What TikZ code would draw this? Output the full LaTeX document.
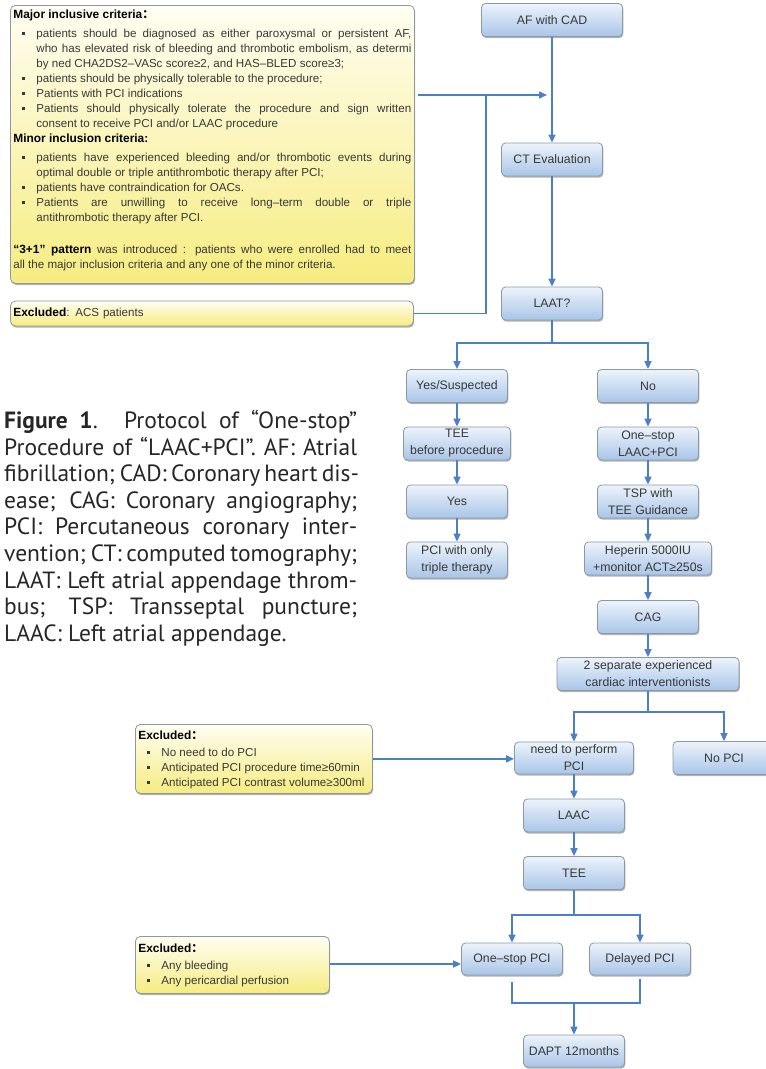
\documentclass[tikz,border=0pt]{standalone}
\usepackage{fontspec}
\setmainfont{Liberation Sans}
\newfontfamily\capfont{PT Sans}
\newfontfamily\cjk{Noto Sans CJK SC}
\usetikzlibrary{arrows.meta,shadows}

\definecolor{bluetop}{HTML}{EDF3FB}
\definecolor{bluebot}{HTML}{A9C5E8}
\definecolor{yeltop}{HTML}{FFFEF2}
\definecolor{yelbot}{HTML}{F6EC80}
\definecolor{boxline}{HTML}{8C99A5}
\definecolor{arrowblue}{HTML}{4D7FC4}
\definecolor{txtgray}{HTML}{383838}

\newcommand{\flowfont}{\fontsize{12.3}{17}\selectfont}
\newcommand{\critfont}{\fontsize{11.6}{15}\selectfont}
\newcommand{\crhead}[2][4pt]{\par\noindent{\fontsize{11.9}{15}\selectfont\bfseries\color{black}#2}\par\vspace{#1}}
\newcommand{\critem}[1]{\par\hangindent=23pt\hangafter=0\noindent\llap{\raisebox{2.2pt}{\rule{3pt}{3pt}}\hspace{11pt}}#1}
\newcommand{\critbox}[4]{\begin{minipage}[t][#1][t]{#2}\vspace*{#3}\critfont\color{txtgray}#4\par\end{minipage}}
\newcommand{\capline}[1]{\makebox[353pt][s]{#1}}

\begin{document}
\hyphenpenalty=10000
\exhyphenpenalty=10000
\tolerance=10000
\hbadness=10000
\begin{tikzpicture}[x=1pt,y=-1pt,
    flowbox/.style={draw=boxline, line width=0.8pt, rounded corners=4pt,
        top color=bluetop, bottom color=bluebot, text=txtgray, font=\flowfont,
        align=center, inner sep=1pt, minimum width=101pt, minimum height=33pt,
        drop shadow={shadow xshift=0.8pt, shadow yshift=-1.6pt, opacity=0.3, fill=black}},
    critstyle/.style={draw=boxline, line width=0.8pt, rounded corners=5pt,
        top color=yeltop, bottom color=yelbot, inner sep=3pt,
        drop shadow={shadow xshift=0.8pt, shadow yshift=-1.6pt, opacity=0.3, fill=black}},
    capstyle/.style={align=left, inner sep=0pt, text=black!85,
        font=\capfont\fontsize{23.5}{26.6}\selectfont},
    flowline/.style={draw=arrowblue, line width=1.6pt},
    flowarrow/.style={flowline, -{Triangle[length=8pt,width=7pt]}},
]
\useasboundingbox (0,0) rectangle (766,1069);

% criteria boxes on the left
\node[critstyle, anchor=north west] (crit) at (10,5) {\critbox{272pt}{398pt}{1.5pt}{%
\crhead{Major inclusive criteria\cjk{：}}
\critem{patients should be diagnosed as either paroxysmal or persistent AF,\linebreak who has elevated risk of bleeding and thrombotic embolism, as determi\linebreak by ned CHA2DS2–VASc score≥2, and HAS–BLED score≥3;}
\critem{patients should be physically tolerable to the procedure;}
\critem{Patients with PCI indications}
\critem{Patients should physically tolerate the procedure and sign written\linebreak consent to receive PCI and/or LAAC procedure}
\crhead{Minor inclusion criteria:}
\critem{patients have experienced bleeding and/or thrombotic events during\linebreak optimal double or triple antithrombotic therapy after PCI;}
\critem{patients have contraindication for OACs.}
\critem{Patients are unwilling to receive long–term double or triple\linebreak antithrombotic therapy after PCI.}
\par\vspace{17pt}
\noindent{\fontsize{11.9}{15}\selectfont\bfseries\color{black}“3+1” pattern} was introduced : patients who were enrolled had to meet\linebreak all the major inclusion criteria and any one of the minor criteria.}};

\node[critstyle, anchor=west, text width=397pt, minimum height=25pt, align=left,
    font=\critfont, text=txtgray] (excl1) at (10,313.5)
    {{\fontsize{11.9}{15}\selectfont\bfseries\color{black}Excluded}: ACS patients};

\node[critstyle, anchor=north west] (excl2) at (135,724) {\critbox{63pt}{231pt}{3.5pt}{%
\crhead[2pt]{Excluded\cjk{：}}
\critem{No need to do PCI}
\critem{Anticipated PCI procedure time≥60min}
\critem{Anticipated PCI contrast volume≥300ml}}};

\node[critstyle, anchor=north west] (excl3) at (135,936) {\critbox{51pt}{188pt}{4.5pt}{%
\crhead[2pt]{Excluded\cjk{：}}
\critem{Any bleeding}
\critem{Any pericardial perfusion}}};

% caption
\node[capstyle, anchor=north west] (caption) at (4,410) {%
\capline{\textbf{Figure 1}. Protocol of “One-stop”}\\
\capline{Procedure of “LAAC+PCI”. AF: Atrial}\\
\capline{fibrillation; CAD: Coronary heart dis-}\\
\capline{ease; CAG: Coronary angiography;}\\
\capline{PCI: Percutaneous coronary inter-}\\
\capline{vention; CT: computed tomography;}\\
\capline{LAAT: Left atrial appendage throm-}\\
\capline{bus; TSP: Transseptal puncture;}\\
LAAC: Left atrial appendage.};

% flow chart
\node[flowbox, minimum width=141pt] (af) at (552,20) {AF with CAD};
\node[flowbox] (ct) at (552,159.5) {CT Evaluation};
\node[flowbox] (laat) at (552,303.5) {LAAT?};
\node[flowbox] (yessus) at (457,386) {Yes/Suspected};
\node[flowbox] (no) at (648,386) {No};
\node[flowbox, minimum width=107pt] (teepre) at (457,443.5) {TEE\\before procedure};
\node[flowbox] (onestop) at (648,443.5) {One–stop\\LAAC+PCI};
\node[flowbox] (yes) at (457,501.5) {Yes};
\node[flowbox] (tsp) at (648,501.5) {TSP with\\TEE Guidance};
\node[flowbox, minimum height=36pt] (triple) at (457,560) {PCI with only\\triple therapy};
\node[flowbox, minimum width=127pt] (heparin) at (648,558.5) {Heperin 5000IU\\+monitor ACT≥250s};
\node[flowbox] (cag) at (648,617) {CAG};
\node[flowbox, minimum width=182pt] (twosep) at (648,674) {2 separate experienced\\cardiac interventionists};
\node[flowbox, minimum width=119pt, minimum height=32pt] (needpci) at (574,758) {need to perform\\PCI};
\node[flowbox, minimum width=102pt] (nopci) at (724,758) {No PCI};
\node[flowbox] (laac) at (574,815.5) {LAAC};
\node[flowbox] (tee) at (574,873) {TEE};
\node[flowbox, minimum height=32pt] (onestoppci) at (512,959) {One–stop PCI};
\node[flowbox, minimum height=32pt] (delayed) at (640,959) {Delayed PCI};
\node[flowbox, minimum height=32pt] (dapt) at (574,1051) {DAPT 12months};

\coordinate (join1) at (552,95);
\coordinate (bend1) at (486,95);
\coordinate (s1) at (552,343);
\coordinate (s2) at (648,712);
\coordinate (s3) at (574,915);
\coordinate (s4) at (574,1003);

% connectors
\draw[flowarrow] (af) -- (ct);
\draw[flowarrow, shorten <=3pt, shorten >=5pt] (crit.east |- join1) -- (join1);
\draw[flowline] (excl1.east) -| (bend1);
\draw[flowarrow] (ct) -- (laat);
\draw[flowline] (laat) -- (s1);
\draw[flowarrow] (s1) -| (yessus.north);
\draw[flowarrow] (s1) -| (no.north);
\draw[flowarrow] (yessus) -- (teepre);
\draw[flowarrow] (teepre) -- (yes);
\draw[flowarrow] (yes) -- (triple);
\draw[flowarrow] (no) -- (onestop);
\draw[flowarrow] (onestop) -- (tsp);
\draw[flowarrow] (tsp) -- (heparin);
\draw[flowarrow] (heparin) -- (cag);
\draw[flowarrow] (cag) -- (twosep);
\draw[flowline] (twosep) -- (s2);
\draw[flowarrow] (s2) -| (needpci.north);
\draw[flowarrow] (s2) -| (nopci.north);
\draw[flowarrow] (excl2.east) -- (excl2.east -| needpci.west);
\draw[flowarrow] (needpci) -- (laac);
\draw[flowarrow] (laac) -- (tee);
\draw[flowline] (tee) -- (s3);
\draw[flowarrow] (s3) -| (onestoppci.north);
\draw[flowarrow] (s3) -| (delayed.north);
\draw[flowarrow] (excl3.east |- 0,964) -- (onestoppci.west |- 0,964);
\draw[flowline] ([yshift=-7pt]onestoppci.south) |- (s4) -| ([yshift=-4pt]delayed.south);
\draw[flowarrow] (s4) -- (dapt);

\end{tikzpicture}
\end{document}
